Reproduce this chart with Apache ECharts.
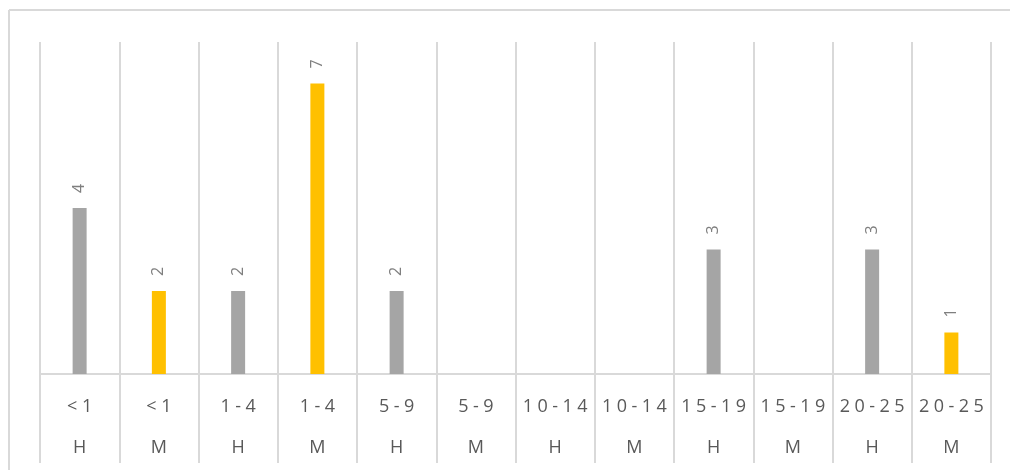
<!DOCTYPE html>
<html>
<head>
<meta charset="utf-8">
<script src="https://cdn.jsdelivr.net/npm/echarts@6/dist/echarts.min.js"></script>
<style>html,body{margin:0;padding:0;background:#fff}#c{width:1011px;height:470px}</style>
</head>
<body>
<div id="c"></div>
<script>
var ageGroups = ['<1', '<1', '1-4', '1-4', '5-9', '5-9', '10-14', '10-14', '15-19', '15-19', '20-25', '20-25'];
var sexes = ['H', 'M', 'H', 'M', 'H', 'M', 'H', 'M', 'H', 'M', 'H', 'M'];
var counts = [4, 2, 2, 7, 2, null, null, null, 3, null, 3, 1];
var sexColors = { H: '#A5A5A5', M: '#FFC000' };

var chart = echarts.init(document.getElementById('c'), null, { renderer: 'canvas' });
var spaced = function (s) { return s.split('').join('\u2005'); };
var categories = ageGroups.map(function (a, i) { return a + '|' + sexes[i]; });
var data = counts.map(function (v, i) {
  return { value: v, itemStyle: { color: sexColors[sexes[i]] } };
});

chart.setOption({
  animation: false,
  grid: { left: 40, right: 20, top: 42, bottom: 96, outerBoundsMode: 'none', containLabel: false },
  graphic: [
    { type: 'line', shape: { x1: 9, y1: 10, x2: 1010, y2: 10 }, style: { stroke: '#d9d9d9', lineWidth: 2 } },
    { type: 'line', shape: { x1: 9, y1: 10, x2: 9, y2: 470 }, style: { stroke: '#d9d9d9', lineWidth: 2 } }
  ],
  xAxis: {
    type: 'category',
    data: categories,
    axisLine: { lineStyle: { color: '#d9d9d9', width: 2 } },
    axisTick: { show: true, length: 89, lineStyle: { color: '#d9d9d9', width: 2 } },
    splitLine: { show: true, lineStyle: { color: '#d9d9d9', width: 2 } },
    axisLabel: {
      interval: 0,
      margin: 12,
      color: '#595959',
      fontFamily: 'Open Sans',
      fontSize: 18,
      lineHeight: 41,
      formatter: function (v) { var p = v.split('|'); return spaced(p[0]) + '\n' + p[1]; }
    }
  },
  yAxis: {
    type: 'value', min: 0, max: 8, interval: 1,
    show: false
  },
  series: [{
    type: 'bar',
    data: data,
    barWidth: 14,
    label: {
      show: true,
      position: 'top',
      rotate: 90,
      align: 'left',
      verticalAlign: 'middle',
      distance: 15,
      color: '#7f7f7f',
      fontFamily: 'Open Sans',
      fontSize: 16
    }
  }]
});
</script>
</body>
</html>
